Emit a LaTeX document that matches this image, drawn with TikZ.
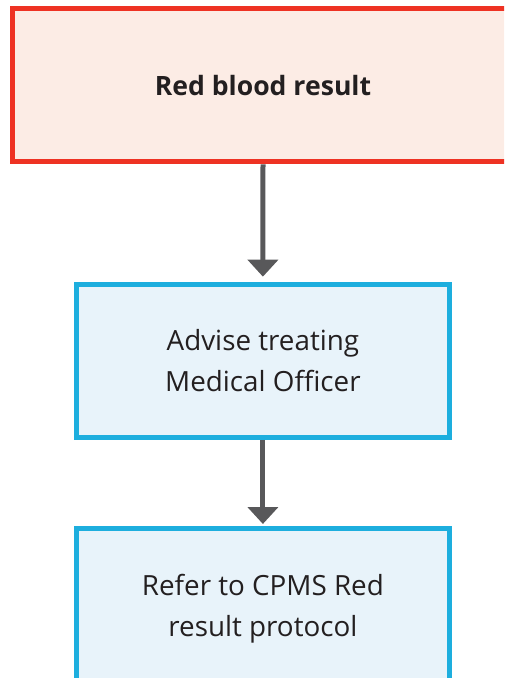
\documentclass[tikz,border=0pt]{standalone}
\usepackage{fontspec}
\setmainfont{Open Sans}
\usetikzlibrary{arrows.meta}
\definecolor{redline}{RGB}{238,50,35}
\definecolor{redfill}{RGB}{252,236,229}
\definecolor{blueline}{RGB}{29,174,222}
\definecolor{bluefill}{RGB}{232,243,250}
\definecolor{arrowgray}{RGB}{88,88,90}
\definecolor{txt}{RGB}{35,31,32}
\tikzset{
  redbox/.style={draw=redline, fill=redfill, line width=5pt, rectangle,
    minimum width=502pt, minimum height=153.3pt, inner sep=0pt,
    text=txt, font=\fontsize{26.6}{41}\selectfont\bfseries, align=center},
  bluebox/.style={draw=blueline, fill=bluefill, line width=5pt, rectangle,
    minimum width=372.7pt, minimum height=153.3pt, inner sep=0pt,
    text=txt, font=\fontsize{27.8}{41}\selectfont, align=center},
  flowarrow/.style={draw=arrowgray, line width=5pt,
    -{Triangle[width=30pt,length=17pt]}}
}
\begin{document}
\begin{tikzpicture}[x=1pt,y=-1pt]
\useasboundingbox (0,0) rectangle (504,678);
\clip (0,0) rectangle (504,678);
\node[redbox] (red) at (263,85.2) {Red blood result};
\node[bluebox] (advise) at (262.9,360.8) {Advise treating\\Medical Officer};
\node[bluebox, minimum height=160pt] (refer) at (262.9,608.5) {Refer to CPMS Red\\result protocol};
\draw[flowarrow, shorten >=5pt] (red.south) -- (advise.north);
\draw[flowarrow, shorten >=2pt] (advise.south) -- (refer.north);
\end{tikzpicture}
\end{document}
